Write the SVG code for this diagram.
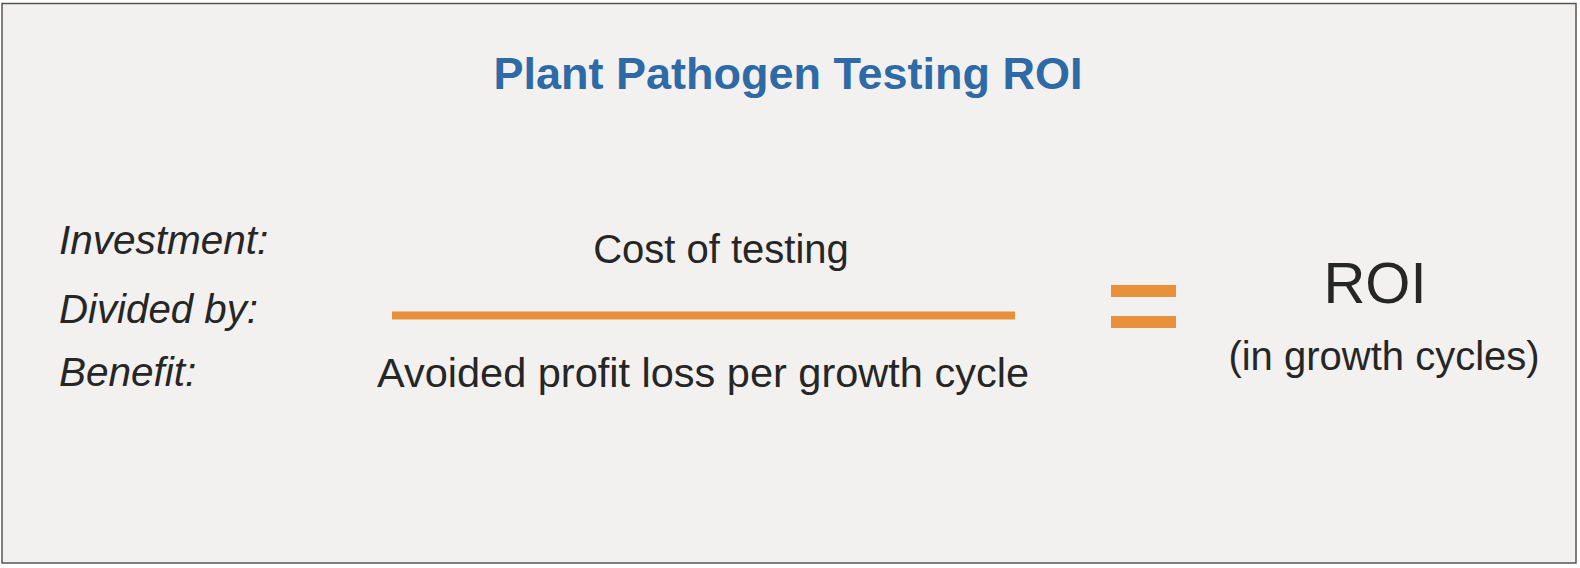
<svg xmlns="http://www.w3.org/2000/svg" width="1580" height="568" viewBox="0 0 1580 568">
<style>
.t{font-family:"Liberation Sans",Arial,sans-serif;fill:#262626}
.lbl{font-size:40.5px;font-style:italic}
.body{font-size:40px}
.orange{fill:#e8913a}
</style>
<rect x="0" y="0" width="1580" height="568" fill="#ffffff"/>
<rect id="frame" x="2" y="3.5" width="1574" height="559.5" fill="#f2f1ef" stroke="#555555" stroke-width="1.5"/>
<g id="title"><text class="t" x="788" y="89" text-anchor="middle" style="font-size:45px;font-weight:bold;fill:#2e6aa6">Plant Pathogen Testing ROI</text></g>
<g id="labels">
<text class="t lbl" x="59" y="254">Investment:</text>
<text class="t lbl" x="59" y="323" textLength="199" lengthAdjust="spacingAndGlyphs">Divided by:</text>
<text class="t lbl" x="59" y="386">Benefit:</text>
</g>
<g id="fraction">
<text class="t body" x="721" y="263" text-anchor="middle">Cost of testing</text>
<rect class="orange" x="392" y="311.5" width="623" height="8"/>
<text class="t body" x="703" y="387" text-anchor="middle" style="font-size:41.5px">Avoided profit loss per growth cycle</text>
</g>
<g id="equals">
<rect class="orange" x="1111" y="285" width="65" height="12"/>
<rect class="orange" x="1111" y="316" width="65" height="12"/>
</g>
<g id="result">
<text class="t" x="1375" y="303" text-anchor="middle" style="font-size:58px">ROI</text>
<text class="t body" x="1384" y="370" text-anchor="middle">(in growth cycles)</text>
</g>
</svg>
